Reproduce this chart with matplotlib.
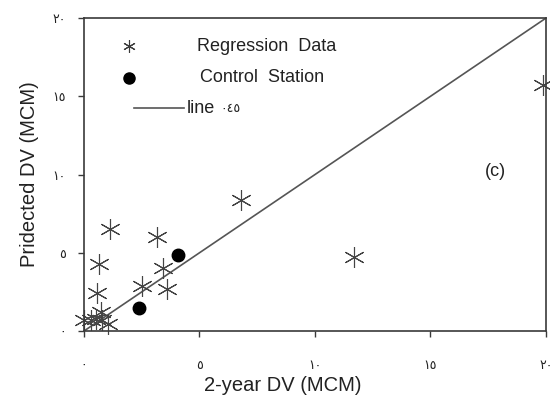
#!/usr/bin/env python3
import matplotlib
matplotlib.use("Agg")
import matplotlib.pyplot as plt

# regression data (2-year DV, predicted DV), MCM
reg_x = [0.0, 0.3, 0.5, 0.75, 0.8, 1.05, 0.56, 0.65, 1.13, 2.51, 3.16, 3.42, 3.6, 6.8, 11.7, 19.87]
reg_y = [0.7, 0.7, 0.75, 1.2, 0.7, 0.45, 2.4, 4.3, 6.5, 2.9, 6.0, 4.0, 2.7, 8.4, 4.7, 15.7]
# control stations
ctl_x = [2.38, 4.07]
ctl_y = [1.5, 4.85]
ticks = [0, 5, 10, 15, 20]
tick_labels = ["٠", "٥", "١٠", "١٥", "٢٠"]

plt.rcParams["font.family"] = ["Liberation Sans", "DejaVu Sans"]
dpi = 100
fig = plt.figure(figsize=(550 / dpi, 408 / dpi), dpi=dpi)
ax = fig.add_axes([0.1527, 0.1887, 0.84, 0.767])

gray = "#3a3a3a"
txt = "#222222"
ax.plot([0, 20], [0, 20], color="#555555", lw=1.2, zorder=1)
ax.plot(reg_x, reg_y, ls="none", marker=(6, 2, 0), ms=15, mew=0.8,
        color="#444444", clip_on=False, zorder=2)
ax.plot(ctl_x, ctl_y, ls="none", marker="o", ms=9, color="black", zorder=3)

ax.set_xlim(0, 20)
ax.set_ylim(0, 20)
ax.set_xticks(ticks, tick_labels, fontsize=9, family=["DejaVu Sans"])
ax.set_yticks(ticks, tick_labels, fontsize=9, family=["DejaVu Sans"])
ax.tick_params(direction="out", length=4, width=1, color=gray, labelcolor=txt)
ax.tick_params(axis="x", pad=16)
ax.tick_params(axis="y", pad=9)
for s in ax.spines.values():
    s.set_color(gray)
    s.set_linewidth(1.2)

ax.set_xlabel("2-year DV (MCM)", fontsize=14.5, color=txt, labelpad=3, x=0.43)
ax.set_ylabel("Pridected DV (MCM)", fontsize=14.5, color=txt, labelpad=10)

ax.text(0.89, 0.51, "(c)", transform=ax.transAxes, fontsize=13,
        ha="center", va="center", color=txt)

# hand-made legend
tr = ax.transAxes
ax.plot([0.098], [0.91], transform=tr, ls="none", marker=(6, 2, 0), ms=9,
        mew=0.8, color=gray)
ax.text(0.245, 0.91, "Regression  Data", transform=tr, fontsize=13,
        va="center", ha="left", color=txt)
ax.plot([0.098], [0.81], transform=tr, ls="none", marker="o", ms=8,
        color="black")
ax.text(0.252, 0.81, "Control  Station", transform=tr, fontsize=13,
        va="center", ha="left", color=txt)
ax.plot([0.108, 0.216], [0.712, 0.712], transform=tr, color="#555555", lw=1.2)
ax.text(0.222, 0.712, "line", transform=tr, fontsize=13,
        va="center", ha="left", color=txt)
ax.text(0.295, 0.712, "٠٤٥", transform=tr, fontsize=9, family=["DejaVu Sans"],
        va="center", ha="left", color=txt)

fig.savefig("out.png", dpi=dpi)
